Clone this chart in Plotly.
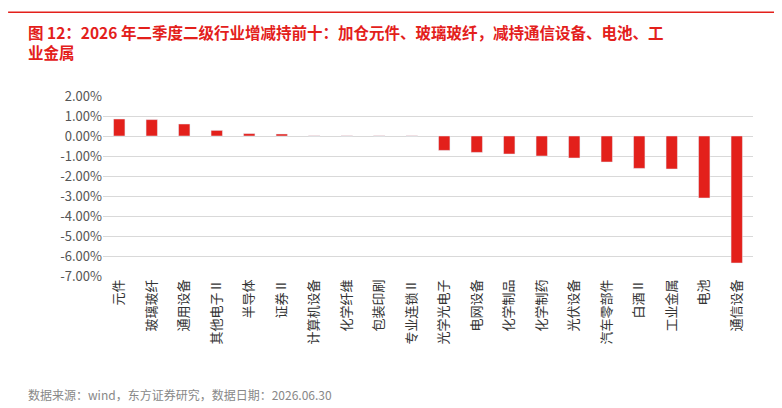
import plotly.graph_objects as go

categories = ["元件", "玻璃玻纤", "通用设备", "其他电子Ⅱ", "半导体", "证券Ⅱ", "计算机设备", "化学纤维",
              "包装印刷", "专业连锁Ⅱ", "光学光电子", "电网设备", "化学制品", "化学制药", "光伏设备",
              "汽车零部件", "白酒Ⅱ", "工业金属", "电池", "通信设备"]
values = [0.85, 0.82, 0.60, 0.28, 0.12, 0.10, 0.01, 0.01, 0.01, 0.01,
          -0.72, -0.82, -0.90, -1.00, -1.10, -1.30, -1.62, -1.65, -3.10, -6.35]
tick_vals = [2, 1, 0, -1, -2, -3, -4, -5, -6, -7]
tick_text = ["%.2f%%" % v for v in tick_vals]

red = "#e3201b"
font = "Noto Sans CJK SC"

fig = go.Figure(go.Bar(x=categories, y=values, marker_color=red, width=0.35))
fig.update_layout(
    width=782, height=408, plot_bgcolor="white", paper_bgcolor="white",
    margin=dict(l=95, r=37, t=88, b=140), showlegend=False,
    font=dict(family=font, size=13, color="#444"),
)
fig.update_yaxes(range=[-7, 2], tickvals=tick_vals, ticktext=tick_text, showgrid=True,
                 gridcolor="#d9d9d9", zeroline=False, tickfont=dict(size=13, color="#555"))
fig.update_xaxes(tickangle=-90, tickfont=dict(size=13, color="#333"), showline=False)
fig.add_shape(type="line", xref="paper", yref="paper", x0=-0.146, x1=1.057, y0=1.465, y1=1.465,
              line=dict(color=red, width=1.5))
fig.add_annotation(text="<b>图 12：2026 年二季度二级行业增减持前十：加仓元件、玻璃玻纤，减持通信设备、电池、工<br>业金属</b>",
                   xref="paper", yref="paper", x=-0.118, y=1.43, xanchor="left", yanchor="top",
                   align="left", showarrow=False, font=dict(size=15.5, color=red, family=font))
fig.add_annotation(text="数据来源：wind，东方证券研究，数据日期：2026.06.30", xref="paper", yref="paper",
                   x=-0.118, y=-0.66, xanchor="left", yanchor="middle", showarrow=False,
                   font=dict(size=12, color="#888", family=font))
fig.write_html("out.html")
